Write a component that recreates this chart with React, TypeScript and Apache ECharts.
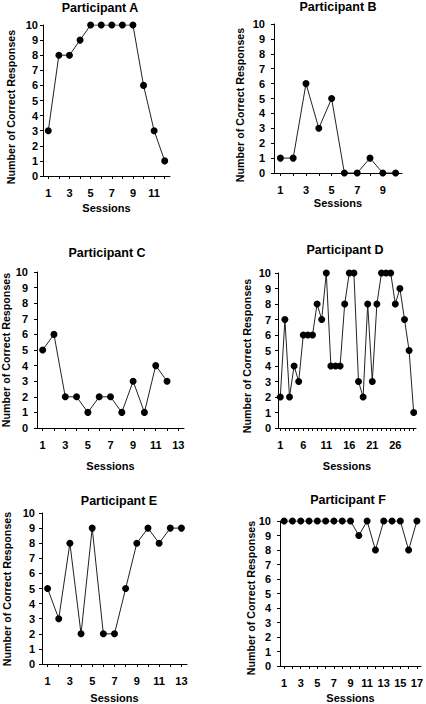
import React, { useEffect, useRef } from "react";
import * as echarts from "echarts";

const titles = ["Participant A", "Participant B", "Participant C", "Participant D", "Participant E", "Participant F"];
const sessionCounts = [12, 10, 13, 30, 13, 17];
const labelIntervals = [1, 1, 1, 4, 1, 1];
const valuesA = [3, 8, 8, 9, 10, 10, 10, 10, 10, 6, 3, 1];
const valuesB = [1, 1, 6, 3, 5, 0, 0, 1, 0, 0];
const valuesC = [5, 6, 2, 2, 1, 2, 2, 1, 3, 1, 4, 3];
const valuesD = [2, 7, 2, 4, 3, 6, 6, 6, 8, 7, 10, 4, 4, 4, 8, 10, 10, 3, 2, 8, 3, 8, 10, 10, 10, 8, 9, 7, 5, 1];
const valuesE = [5, 3, 8, 2, 9, 2, 2, 5, 8, 9, 8, 9, 9];
const valuesF = [10, 10, 10, 10, 10, 10, 10, 10, 10, 9, 10, 8, 10, 10, 10, 8, 10];
const yMin = 0;
const yMax = 10;
const yStep = 1;
const xTitle = "Sessions";
const yTitle = "Number of Correct Responses";

const allValues = [valuesA, valuesB, valuesC, valuesD, valuesE, valuesF];

// layout (pixels)
const grids = [
  { left: 43, top: 25, width: 127, height: 151 },
  { left: 274, top: 24, width: 128, height: 149 },
  { left: 37, top: 272, width: 147, height: 156 },
  { left: 278, top: 273, width: 138, height: 155 },
  { left: 42, top: 513, width: 145, height: 151 },
  { left: 280, top: 521, width: 142, height: 147 },
];
const titlePos = [
  [100, 8], [338, 7], [107, 253], [345, 250], [119, 501], [348, 500],
];
const yTitlePos = [
  [10.5, 107], [240, 105], [5.5, 350], [247, 356], [7, 589], [251, 598],
];
const yLabelMargin = [5, 9, 9, 7, 7, 9];
const xNameGap = [26, 24, 32, 32, 28, 26];

const FONT = "'Liberation Sans', Arial, Helvetica, sans-serif";

export default function App() {
  const ref = useRef<HTMLDivElement>(null);
  useEffect(() => {
    document.body.style.margin = "0";
    if (!ref.current) return;
    const chart = echarts.init(ref.current, null, { renderer: "svg" });
    const axisStyle = { lineStyle: { color: "#000", width: 1 } };
    const option: any = {
      animation: false,
      backgroundColor: "#fff",
      grid: grids.map((g) => ({ ...g, containLabel: false })),
      xAxis: sessionCounts.map((n, i) => ({
        type: "category",
        gridIndex: i,
        data: Array.from({ length: n }, (_, k) => String(k + 1)),
        boundaryGap: true,
        axisLine: axisStyle,
        axisTick: { show: true, interval: 0, alignWithLabel: true, length: 3, lineStyle: { color: "#000" } },
        axisLabel: {
          interval: labelIntervals[i],
          color: "#000",
          fontWeight: "bold",
          fontSize: 11,
          fontFamily: FONT,
          margin: 11,
        },
        splitLine: { show: false },
        name: xTitle,
        nameLocation: "middle",
        nameGap: xNameGap[i],
        nameTextStyle: { color: "#000", fontWeight: "bold", fontSize: 11, fontFamily: FONT },
      })),
      yAxis: sessionCounts.map((_, i) => ({
        type: "value",
        gridIndex: i,
        min: yMin,
        max: yMax,
        interval: yStep,
        axisLine: { show: true, ...axisStyle },
        axisTick: { show: true, length: 3, lineStyle: { color: "#000" } },
        axisLabel: { color: "#000", fontWeight: "bold", fontSize: 11, fontFamily: FONT, margin: yLabelMargin[i] },
        splitLine: { show: false },
      })),
      series: allValues.map((vals, i) => ({
        type: "line",
        xAxisIndex: i,
        yAxisIndex: i,
        data: vals,
        symbol: "circle",
        symbolSize: 7,
        showSymbol: true,
        showAllSymbol: true,
        lineStyle: { color: "#222", width: 1 },
        itemStyle: { color: "#000" },
      })),
      graphic: [
        ...titles.map((t, i) => ({
          type: "text",
          x: titlePos[i][0],
          y: titlePos[i][1],
          style: {
            text: t,
            align: "center",
            verticalAlign: "middle",
            textAlign: "center",
            textVerticalAlign: "middle",
            font: `bold 12.5px ${FONT}`,
            fill: "#000",
          },
        })),
        ...yTitlePos.map((p) => ({
          type: "text",
          x: p[0],
          y: p[1],
          rotation: Math.PI / 2,
          style: {
            text: yTitle,
            align: "center",
            verticalAlign: "middle",
            textAlign: "center",
            textVerticalAlign: "middle",
            font: `bold 10.7px ${FONT}`,
            fill: "#000",
          },
        })),
      ],
    };
    chart.setOption(option);
    return () => chart.dispose();
  }, []);
  return <div ref={ref} style={{ width: 426, height: 704 }} />;
}
